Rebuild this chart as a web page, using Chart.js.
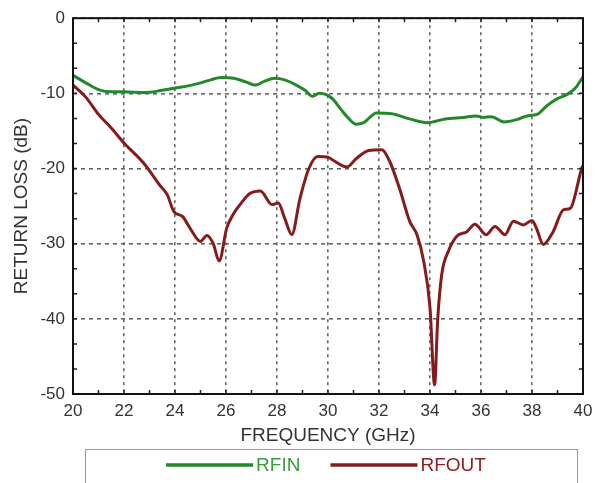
<!DOCTYPE html>
<html>
<head>
<meta charset="utf-8">
<script src="https://cdn.jsdelivr.net/npm/chart.js@4/dist/chart.umd.min.js"></script>
<style>
  html, body { margin: 0; padding: 0; background: #fff; }
  #wrap { width: 600px; height: 483px; position: relative; }
</style>
</head>
<body>
<div id="wrap"><canvas id="rl-chart"></canvas></div>
<script>
// frequency (GHz) / return loss (dB)
const rfinFreq = [20.0, 20.5, 21.0, 21.5, 22.0, 22.8, 23.5, 24.2, 24.9, 25.4, 25.8, 26.3, 26.8, 27.15, 27.5, 27.9, 28.3, 28.7, 29.1, 29.4, 29.65, 29.95, 30.2, 30.5, 30.8, 31.1, 31.4, 31.9, 32.5, 33.2, 33.9, 34.6, 35.3, 35.8, 36.1, 36.4, 36.9, 37.4, 37.8, 38.2, 38.6, 39.0, 39.4, 39.7, 40.0];
const rfinDb = [-7.6, -8.6, -9.5, -9.8, -9.8, -9.9, -9.6, -9.2, -8.7, -8.2, -7.9, -8.0, -8.5, -8.9, -8.4, -8.0, -8.2, -8.8, -9.6, -10.4, -10.0, -10.2, -10.8, -12.1, -13.3, -14.1, -13.9, -12.6, -12.7, -13.4, -13.9, -13.4, -13.2, -13.0, -13.2, -13.1, -13.8, -13.5, -13.0, -12.8, -11.6, -10.7, -10.1, -9.3, -7.8];

const rfoutFreq = [20.0, 20.5, 21.0, 21.5, 22.0, 22.8, 23.4, 23.7, 23.95, 24.3, 24.6, 25.0, 25.25, 25.5, 25.73, 26.03, 26.3, 26.55, 26.95, 27.35, 27.8, 28.05, 28.3, 28.58, 28.9, 29.25, 29.6, 30.0, 30.2, 30.75, 31.1, 31.6, 32.1, 32.4, 32.8, 33.2, 33.5, 33.75, 34.0, 34.18, 34.3, 34.46, 34.72, 35.05, 35.45, 35.76, 36.2, 36.55, 36.94, 37.27, 37.66, 38.0, 38.18, 38.44, 38.83, 39.23, 39.5, 39.95, 40.0];
const rfoutDb = [-8.9, -10.5, -12.8, -14.6, -16.6, -19.4, -22.2, -23.5, -25.7, -26.4, -28.0, -29.7, -28.9, -30.0, -32.3, -27.9, -26.0, -24.8, -23.3, -23.0, -24.8, -24.6, -26.6, -28.8, -24.0, -20.0, -18.4, -18.5, -18.9, -19.8, -18.7, -17.6, -17.5, -18.9, -22.6, -27.0, -28.9, -32.3, -38.5, -48.8, -40.2, -34.1, -31.0, -29.0, -28.4, -27.4, -28.8, -27.7, -28.8, -27.0, -27.5, -26.9, -28.0, -30.1, -28.4, -25.5, -25.3, -20.0, -19.6];

const xTicks = [20, 22, 24, 26, 28, 30, 32, 34, 36, 38, 40];
const yTicks = [0, -10, -20, -30, -40, -50];

const seriesNames = ['RFIN', 'RFOUT'];
const seriesColors = ['#23882a', '#861b1d'];
const legendTextColors = ['#3c9a3c', '#8e2022'];

const FONT = '"Liberation Sans", Arial, sans-serif';

function toPoints(xs, ys) {
    return xs.map((x, i) => ({ x, y: ys[i] }));
}

// frame, minor ticks and the boxed legend under the axis title
const framePlugin = {
    id: 'frame',
    afterDraw(chart) {
        const { ctx, chartArea: a, scales } = chart;
        ctx.save();

        // minor ticks every 1 GHz and every 10/3 dB
        ctx.strokeStyle = '#222';
        ctx.lineWidth = 1.5;
        ctx.beginPath();
        for (let f = 21; f < 40; f++) {
            const px = scales.x.getPixelForValue(f);
            ctx.moveTo(px, a.bottom); ctx.lineTo(px, a.bottom - 4);
            ctx.moveTo(px, a.top); ctx.lineTo(px, a.top + 4);
        }
        for (let d = 0; d > -50; d -= 10 / 3) {
            const py = scales.y.getPixelForValue(d);
            ctx.moveTo(a.left, py); ctx.lineTo(a.left + 4, py);
            ctx.moveTo(a.right, py); ctx.lineTo(a.right - 4, py);
        }
        ctx.stroke();

        ctx.strokeStyle = '#111';
        ctx.lineWidth = 2;
        ctx.strokeRect(a.left, a.top, a.right - a.left, a.bottom - a.top);

        // legend
        const boxTop = a.bottom + 55;
        ctx.strokeStyle = '#999';
        ctx.lineWidth = 1;
        ctx.strokeRect(a.left + 12.5, boxTop + 0.5, a.right - a.left - 18, 60);

        ctx.font = '19px ' + FONT;
        ctx.textBaseline = 'middle';
        const lineLen = 87, gap = 3, itemGap = 30;
        const widths = seriesNames.map(n => ctx.measureText(n).width);
        const total = widths.reduce((s, w) => s + lineLen + gap + w, 0) + itemGap;
        let x = (a.left + a.right) / 2 - 2 - total / 2;
        const y = boxTop + 16;
        seriesNames.forEach((name, i) => {
            ctx.strokeStyle = seriesColors[i];
            ctx.lineWidth = 3.5;
            ctx.beginPath();
            ctx.moveTo(x, y); ctx.lineTo(x + lineLen, y);
            ctx.stroke();
            ctx.fillStyle = legendTextColors[i];
            ctx.fillText(name, x + lineLen + gap, y + 1);
            x += lineLen + gap + widths[i] + itemGap;
        });
        ctx.restore();
    }
};

function initReturnLossChart() {
    const canvas = document.getElementById('rl-chart');
    if (!canvas) return;

    const datasets = [
        { label: seriesNames[0], data: toPoints(rfinFreq, rfinDb) },
        { label: seriesNames[1], data: toPoints(rfoutFreq, rfoutDb) }
    ].map((d, i) => Object.assign(d, {
        borderColor: seriesColors[i],
        backgroundColor: seriesColors[i],
        borderWidth: 3,
        pointRadius: 0,
        cubicInterpolationMode: 'monotone',
        fill: false
    }));

    const gridStyle = { color: '#666', lineWidth: 1.6, drawTicks: false };

    new Chart(canvas.getContext('2d'), {
        type: 'line',
        data: { datasets },
        options: {
            responsive: true,
            maintainAspectRatio: false,
            animation: false,
            layout: { padding: { top: 15, right: 17, left: 0, bottom: 34 } },
            plugins: { legend: { display: false }, tooltip: { enabled: false } },
            scales: {
                x: {
                    type: 'linear',
                    min: 20, max: 40,
                    afterBuildTicks: s => { s.ticks = xTicks.map(v => ({ value: v })); },
                    afterFit: s => { s.height = 55; },
                    grid: gridStyle,
                    border: { display: false, dash: [3, 4] },
                    ticks: { color: '#333', padding: 7, maxRotation: 0, font: { family: FONT, size: 17 } },
                    title: { display: true, text: 'FREQUENCY (GHz)', color: '#333', padding: { top: 0, bottom: 2 }, font: { family: FONT, size: 19 } }
                },
                y: {
                    type: 'linear',
                    min: -50, max: 0,
                    afterBuildTicks: s => { s.ticks = yTicks.map(v => ({ value: v })); },
                    afterFit: s => { s.width = 73; },
                    grid: gridStyle,
                    border: { display: false, dash: [4, 4] },
                    ticks: { color: '#333', padding: 8, font: { family: FONT, size: 17 } },
                    title: { display: true, text: 'RETURN LOSS (dB)', color: '#333', padding: { top: 10, bottom: 0 }, font: { family: FONT, size: 19 } }
                }
            }
        },
        plugins: [framePlugin]
    });
}

document.addEventListener('DOMContentLoaded', initReturnLossChart);
</script>
</body>
</html>
